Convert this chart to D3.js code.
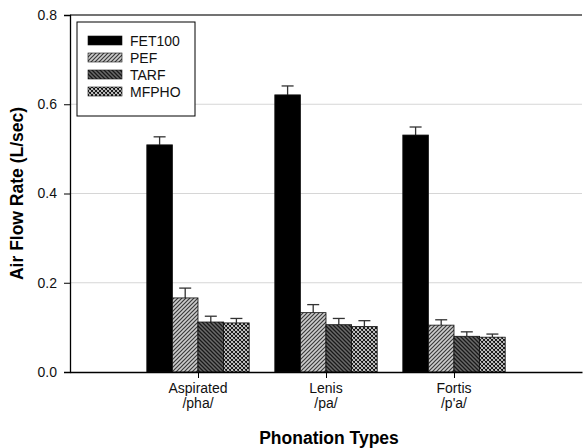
<!DOCTYPE html>
<html>
<head>
<meta charset="utf-8">
<script src="https://cdn.jsdelivr.net/npm/d3@7"></script>
<style>
  body { margin: 0; background: #fff; }
  text { font-family: Arial, "Liberation Sans", sans-serif; }
</style>
</head>
<body>
<svg></svg>
<script>
'use strict';

var categories = ['Aspirated', 'Lenis', 'Fortis'];
var subLabels = ['/pha/', '/pa/', "/p'a/"];
var seriesNames = ['FET100', 'PEF', 'TARF', 'MFPHO'];

var fet100 = [0.509, 0.621, 0.531];
var fet100Err = [0.018, 0.020, 0.018];
var pef = [0.166, 0.133, 0.105];
var pefErr = [0.022, 0.018, 0.012];
var tarf = [0.112, 0.106, 0.080];
var tarfErr = [0.013, 0.014, 0.010];
var mfpho = [0.110, 0.102, 0.078];
var mfphoErr = [0.010, 0.013, 0.007];

var yTicks = [0, 0.2, 0.4, 0.6, 0.8];

function render() {
    var w = 583;
    var h = 448;
    var m = { top: 15, right: 1, bottom: 76, left: 70 };
    var d3 = window.d3;

    var values = [fet100, pef, tarf, mfpho];
    var errors = [fet100Err, pefErr, tarfErr, mfphoErr];

    var svg = d3.select('svg').attr('width', w).attr('height', h);
    var defs = svg.append('defs');

    // fill patterns for the hatched series
    var p1 = defs.append('pattern').attr('id', 'pef').attr('patternUnits', 'userSpaceOnUse')
        .attr('width', 4).attr('height', 4);
    p1.append('rect').attr('width', 4).attr('height', 4).attr('fill', '#cccccc');
    p1.append('path').attr('d', 'M-1,1 l2,-2 M0,4 l4,-4 M3,5 l2,-2')
        .attr('stroke', '#3a3a3a').attr('stroke-width', 1.2);

    var p2 = defs.append('pattern').attr('id', 'tarf').attr('patternUnits', 'userSpaceOnUse')
        .attr('width', 4).attr('height', 4);
    p2.append('rect').attr('width', 4).attr('height', 4).attr('fill', '#6a6a6a');
    p2.append('path').attr('d', 'M-1,3 l2,2 M0,0 l4,4 M3,-1 l2,2')
        .attr('stroke', '#1a1a1a').attr('stroke-width', 1.3);

    var p3 = defs.append('pattern').attr('id', 'mfpho').attr('patternUnits', 'userSpaceOnUse')
        .attr('width', 4).attr('height', 4);
    p3.append('rect').attr('width', 4).attr('height', 4).attr('fill', '#ffffff');
    p3.append('path').attr('d', 'M-1,1 l2,-2 M0,4 l4,-4 M3,5 l2,-2 M-1,3 l2,2 M0,0 l4,4 M3,-1 l2,2')
        .attr('stroke', '#111').attr('stroke-width', 1.1);

    var fills = ['#000000', 'url(#pef)', 'url(#tarf)', 'url(#mfpho)'];

    var x = d3.scaleLinear().domain([0, categories.length + 1]).range([m.left, w - m.right]);
    var y = d3.scaleLinear().domain([0, 0.8]).range([h - m.bottom, m.top]);
    var step = x(1) - x(0);
    var inner = d3.scaleBand().domain(seriesNames).range([-step * 0.4, step * 0.4]);

    // gridlines
    svg.append('g').selectAll('line').data(yTicks.slice(1, 4)).enter().append('line')
        .attr('x1', m.left).attr('x2', w - m.right)
        .attr('y1', function (d) { return y(d); }).attr('y2', function (d) { return y(d); })
        .attr('stroke', '#d6d6d6').attr('stroke-width', 1.2);

    // top frame line
    svg.append('line').attr('x1', m.left).attr('x2', w - m.right)
        .attr('y1', y(0.8)).attr('y2', y(0.8))
        .attr('stroke', '#444').attr('stroke-width', 1.6);

    // bars and error bars
    seriesNames.forEach(function (name, s) {
        var g = svg.append('g');
        var data = categories.map(function (c, i) {
            return { i: i, v: values[s][i], e: errors[s][i] };
        });
        g.selectAll('line.err').data(data).enter().append('line').attr('class', 'err')
            .attr('x1', function (d) { return x(d.i + 1) + inner(name) + inner.bandwidth() / 2; })
            .attr('x2', function (d) { return x(d.i + 1) + inner(name) + inner.bandwidth() / 2; })
            .attr('y1', function (d) { return y(d.v); })
            .attr('y2', function (d) { return y(d.v + d.e); })
            .attr('stroke', '#333').attr('stroke-width', 1.3);
        g.selectAll('line.cap').data(data).enter().append('line').attr('class', 'cap')
            .attr('x1', function (d) { return x(d.i + 1) + inner(name) + inner.bandwidth() / 2 - 6; })
            .attr('x2', function (d) { return x(d.i + 1) + inner(name) + inner.bandwidth() / 2 + 6; })
            .attr('y1', function (d) { return y(d.v + d.e); })
            .attr('y2', function (d) { return y(d.v + d.e); })
            .attr('stroke', '#333').attr('stroke-width', 1.3);
        g.selectAll('rect').data(data).enter().append('rect')
            .attr('x', function (d) { return x(d.i + 1) + inner(name); })
            .attr('width', inner.bandwidth())
            .attr('y', function (d) { return y(d.v); })
            .attr('height', function (d) { return y(0) - y(d.v); })
            .attr('fill', fills[s])
            .attr('stroke', '#111').attr('stroke-width', 0.8);
    });

    // y axis
    var yAxis = d3.axisLeft(y).tickValues(yTicks).tickFormat(d3.format('.1f')).tickSize(6).tickPadding(7);
    var ya = svg.append('g').attr('transform', 'translate(' + m.left + ',0)').call(yAxis);
    ya.select('.domain').attr('stroke', '#000').attr('stroke-width', 1.3);
    ya.selectAll('.tick line').attr('stroke', '#000');
    ya.selectAll('.tick text').attr('font-size', 14).attr('fill', '#111')
        .style('font-family', 'Arial, "Liberation Sans", sans-serif');

    // x axis
    var xAxis = d3.axisBottom(x).tickValues([1, 2, 3]).tickFormat('').tickSize(6).tickSizeOuter(0);
    var xa = svg.append('g').attr('transform', 'translate(0,' + y(0) + ')').call(xAxis);
    xa.select('.domain').attr('stroke', '#000').attr('stroke-width', 1.6);
    xa.selectAll('.tick line').attr('stroke', '#000');

    var lab = svg.append('g').selectAll('text').data(categories).enter().append('text')
        .attr('text-anchor', 'middle').attr('font-size', 14).attr('fill', '#111')
        .attr('x', function (d, i) { return x(i + 1); })
        .attr('y', y(0) + 21);
    lab.append('tspan').attr('x', function (d, i) { return x(i + 1); }).text(function (d) { return d; });
    lab.append('tspan').attr('x', function (d, i) { return x(i + 1); }).attr('dy', 15)
        .text(function (d, i) { return subLabels[i]; });

    // axis titles
    svg.append('text').attr('x', (m.left + w - m.right) / 2 + 3).attr('y', 444)
        .attr('text-anchor', 'middle').attr('font-size', 17.5).attr('font-weight', 'bold')
        .text('Phonation Types');
    svg.append('text').attr('transform', 'translate(23,' + ((m.top + h - m.bottom) / 2) + ') rotate(-90)')
        .attr('text-anchor', 'middle').attr('font-size', 17.5).attr('font-weight', 'bold')
        .text('Air Flow Rate (L/sec)');

    // legend
    var lg = svg.append('g').attr('transform', 'translate(77,22)');
    lg.append('rect').attr('width', 118).attr('height', 94)
        .attr('fill', '#fff').attr('stroke', '#000').attr('stroke-width', 1);
    var items = lg.selectAll('g.item').data(seriesNames).enter().append('g').attr('class', 'item')
        .attr('transform', function (d, i) { return 'translate(11,' + (14 + i * 17) + ')'; });
    items.append('rect').attr('width', 34).attr('height', 9)
        .attr('fill', function (d, i) { return fills[i]; })
        .attr('stroke', '#111').attr('stroke-width', 0.6);
    items.append('text').attr('x', 42).attr('y', 10).attr('font-size', 14).attr('fill', '#111')
        .text(function (d) { return d; });
}

render();
</script>
</body>
</html>
